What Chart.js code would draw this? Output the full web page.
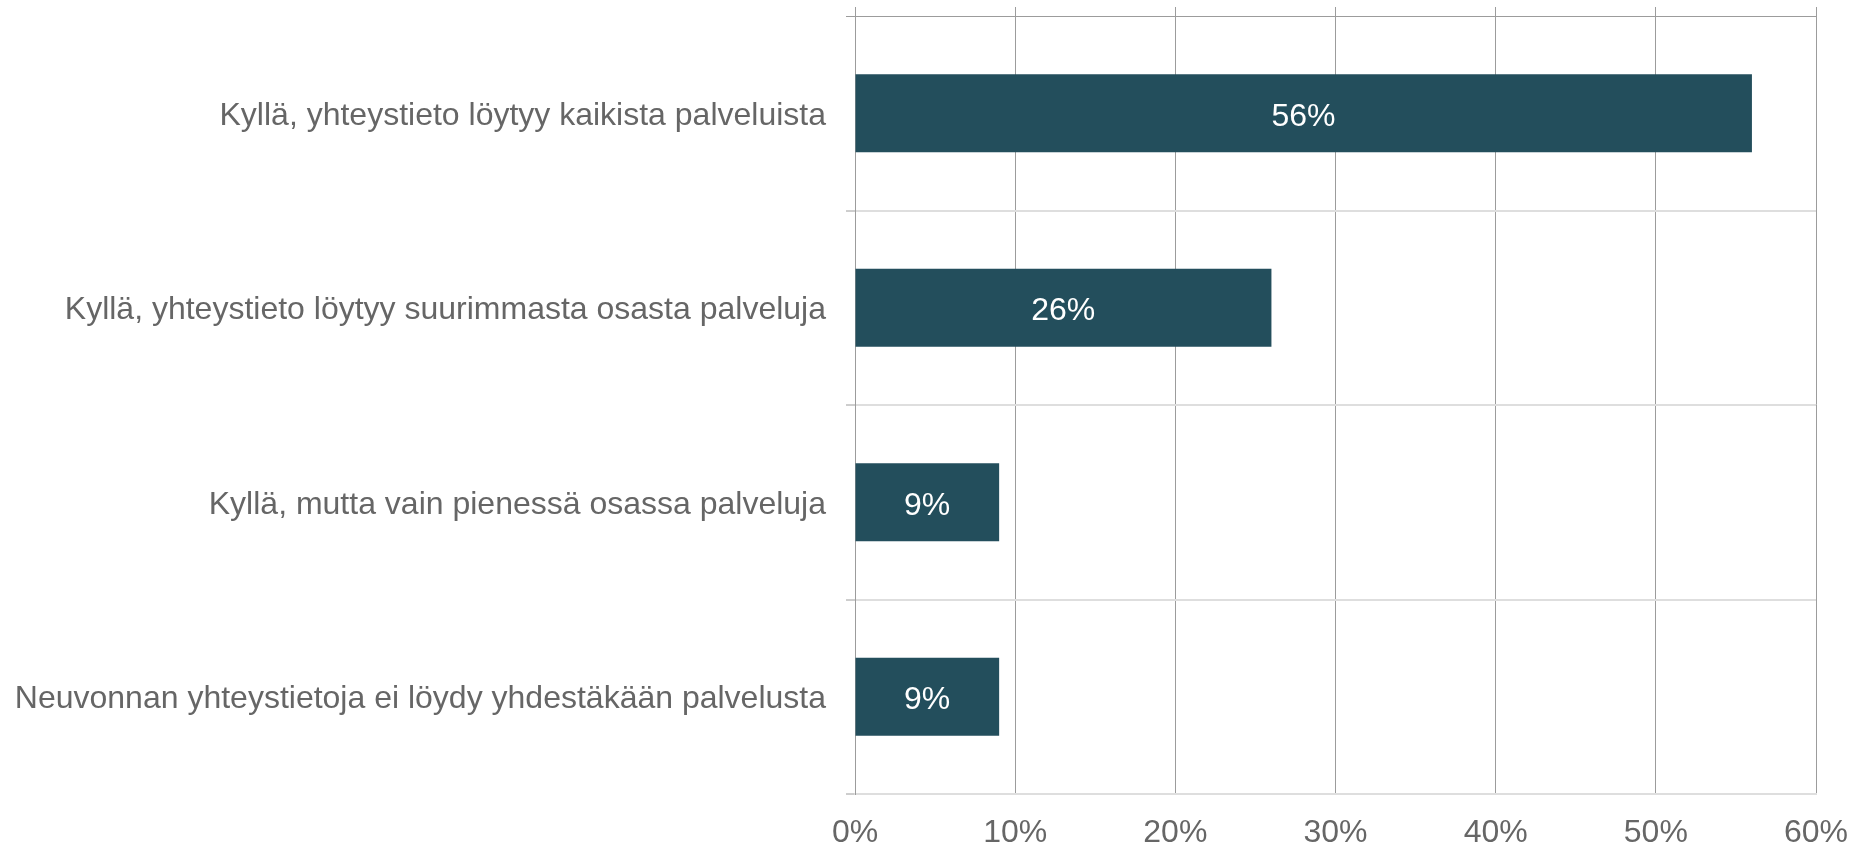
<!DOCTYPE html>
<html>
<head>
<meta charset="utf-8">
<script src="https://cdn.jsdelivr.net/npm/chart.js@4/dist/chart.umd.min.js"></script>
<style>
  html, body { margin: 0; padding: 0; background: #ffffff; }
  #wrap { width: 1855px; height: 846px; position: relative; }
</style>
</head>
<body>
<div id="wrap"><canvas id="c"></canvas></div>
<script>
const categories = [
  "Kyllä, yhteystieto löytyy kaikista palveluista",
  "Kyllä, yhteystieto löytyy suurimmasta osasta palveluja",
  "Kyllä, mutta vain pienessä osassa palveluja",
  "Neuvonnan yhteystietoja ei löydy yhdestäkään palvelusta"
];
const values = [56, 26, 9, 9];
const axisMin = 0;
const axisMax = 60;
const axisStep = 10;

const FONT = "'Liberation Sans', Arial, sans-serif";
const TEXT = '#666666';
const BAR = '#234e5c';
const GRID_DARK = '#9c9c9c';
const GRID_LIGHT = '#dedede';

const valueLabels = {
  id: 'valueLabels',
  afterDatasetsDraw(chart) {
    const ctx = chart.ctx;
    const meta = chart.getDatasetMeta(0);
    const xs = chart.scales.x;
    ctx.save();
    ctx.font = '32px ' + FONT;
    ctx.fillStyle = '#ffffff';
    ctx.textAlign = 'center';
    ctx.textBaseline = 'alphabetic';
    meta.data.forEach((bar, i) => {
      const cx = (xs.getPixelForValue(0) + bar.x) / 2;
      ctx.fillText(values[i] + '%', cx, bar.y + 12.5);
    });
    ctx.restore();
  }
};

new Chart(document.getElementById('c'), {
  type: 'bar',
  data: {
    labels: categories,
    datasets: [{
      data: values,
      backgroundColor: BAR,
      borderWidth: 0,
      barPercentage: 0.5,
      categoryPercentage: 0.8
    }]
  },
  options: {
    indexAxis: 'y',
    responsive: true,
    maintainAspectRatio: false,
    animation: false,
    layout: { padding: { top: 7, right: 39, left: 0, bottom: 0 } },
    plugins: { legend: { display: false }, tooltip: { enabled: false } },
    scales: {
      x: {
        type: 'linear',
        position: 'bottom',
        min: axisMin, max: axisMax,
        afterFit(s) { s.height = 52; s.paddingLeft = 0; s.paddingRight = 0; },
        ticks: {
          stepSize: axisStep,
          color: TEXT,
          font: { family: FONT, size: 32 },
          padding: 20,
          callback: v => v + '%'
        },
        grid: { color: GRID_DARK, lineWidth: 1, drawTicks: false },
        border: { display: true, color: GRID_LIGHT, width: 2 }
      },
      x2: {
        type: 'linear',
        position: 'top',
        min: axisMin, max: axisMax,
        afterFit(s) { s.height = 9; s.paddingLeft = 0; s.paddingRight = 0; },
        ticks: { stepSize: axisStep, display: false },
        grid: { color: GRID_DARK, lineWidth: 1, drawOnChartArea: false, drawTicks: true, tickLength: 9 },
        border: { display: true, color: GRID_DARK, width: 1 }
      },
      y: {
        type: 'category',
        offset: true,
        afterFit(s) { s.width = 855; s.paddingTop = 0; s.paddingBottom = 0; },
        ticks: {
          color: TEXT,
          font: { family: FONT, size: 32, lineHeight: '5px' },
          padding: 20,
          callback: function (v, i) { return ['', categories[i]]; }
        },
        grid: {
          offset: true,
          color: ctx => ctx.index === 0 ? GRID_DARK : GRID_LIGHT,
          lineWidth: ctx => ctx.index === 0 ? 1 : 2,
          tickColor: GRID_DARK,
          tickWidth: 1,
          tickLength: 9
        },
        border: { display: true, color: GRID_DARK, width: 1 }
      }
    }
  },
  plugins: [valueLabels]
});
</script>
</body>
</html>
